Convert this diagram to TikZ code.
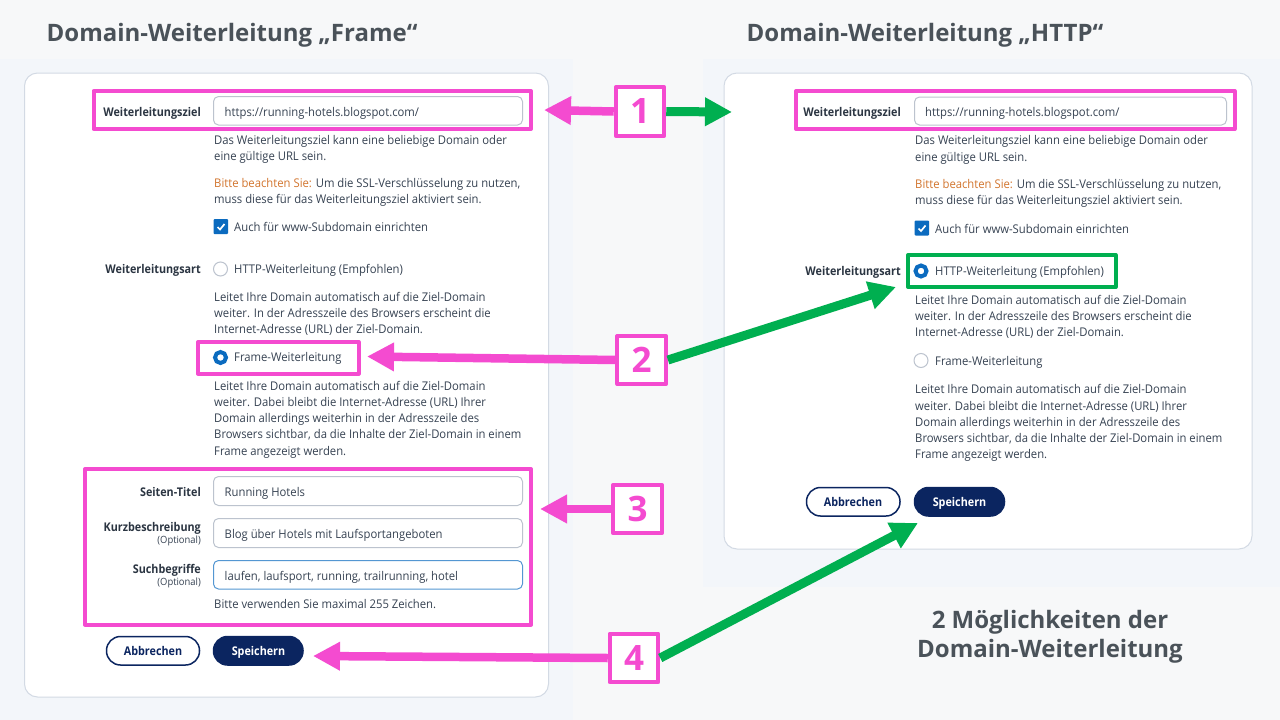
\documentclass[tikz,border=0pt]{standalone}
\usepackage{fontspec}
\setmainfont{Open Sans}[FakeStretch=0.94,BoldFeatures={FakeStretch=0.9}]
\newfontfamily\plainf{Open Sans}
\usetikzlibrary{arrows.meta,calc}
\definecolor{pagebg}{HTML}{F7F8F9}
\definecolor{panelbg}{HTML}{F3F6FA}
\definecolor{cardline}{HTML}{D3DAE4}
\definecolor{mag}{HTML}{F44BD0}
\definecolor{grn}{HTML}{00AF50}
\definecolor{navy}{HTML}{0B2560}
\definecolor{ink}{HTML}{364252}
\definecolor{title}{HTML}{4A5259}
\definecolor{blue}{HTML}{0B6BBF}
\definecolor{fieldline}{HTML}{BCC3CE}
\definecolor{orange}{HTML}{D2752E}
\tikzset{
  x=1pt,y=-1pt,
  card/.style={draw=cardline,line width=1pt,fill=white,rounded corners=13pt},
  fieldbox/.style={draw=fieldline,line width=1pt,fill=white,rounded corners=5pt},
  magbox/.style={draw=mag,line width=4pt,line join=round},
  grnbox/.style={draw=grn,line width=4pt,line join=round},
  numbox/.style={draw=mag,line width=4pt,line join=round,fill=white,minimum width=48.5pt,minimum height=48.5pt,inner sep=0pt,text=mag,font=\plainf\fontsize{35}{35}\selectfont\bfseries},
  magarrow/.style={draw=mag,line width=8.5pt,-{Triangle[length=27pt,width=27pt]}},
  grnarrow/.style={draw=grn,line width=9pt,-{Triangle[length=27pt,width=27pt]}},
  bodyt/.style={anchor=base west,inner sep=0pt,text=ink,font=\fontsize{12}{12}\selectfont},
  labelt/.style={anchor=base east,inner sep=0pt,text=ink!80!black,font=\fontsize{12}{12}\selectfont\bfseries},
  optt/.style={anchor=base east,inner sep=0pt,text=ink,font=\fontsize{10}{10}\selectfont},
  titlet/.style={inner sep=0pt,text=title,font=\plainf\fontsize{24}{24}\selectfont\bfseries},
  pill/.style={rounded corners=14pt,line width=1.5pt},
  btnt/.style={inner sep=0pt,anchor=base,font=\fontsize{12}{12}\selectfont\bfseries},
  radioff/.style={circle,draw=fieldline,line width=1pt,fill=white,minimum size=14pt,inner sep=0pt},
  radion/.style={circle,draw=blue,line width=4pt,fill=white,minimum size=11pt,inner sep=0pt},
}
\newcommand{\bt}[4]{\node[bodyt] (#1) at (#2,#3) {#4};}
\begin{document}
\begin{tikzpicture}
\useasboundingbox (0,0) rectangle (1280,720);
\fill[pagebg] (0,0) rectangle (1280,720);
\fill[panelbg] (0,59) rectangle (573,720);
\fill[panelbg] (703,59) rectangle (1280,587);
\draw[card] (24.5,73) rectangle (548.5,697);
\draw[card] (724,73) rectangle (1252,549);

\node[titlet,anchor=base west] (t1) at (46.5,41) {Domain-Weiterleitung „Frame“};
\node[titlet,anchor=base west] (t2) at (746.5,41) {Domain-Weiterleitung „HTTP“};
\node[titlet,anchor=base,align=center] (t3) at (1050,628) {2 Möglichkeiten der};
\node[titlet,anchor=base,align=center] (t4) at (1050,657) {Domain-Weiterleitung};

% left form
\draw[fieldbox] (213.5,96.5) rectangle (522.5,125);
\node[labelt] (a1) at (201,116) {Weiterleitungsziel};
\bt{a2}{224.5}{116}{https://running-hotels.blogspot.com/}
\bt{a3}{214}{144.5}{Das Weiterleitungsziel kann eine beliebige Domain oder}
\bt{a4}{214}{160.5}{eine gültige URL sein.}
\bt{a5}{214}{187.5}{\textcolor{orange}{Bitte beachten Sie:} Um die SSL-Verschlüsselung zu nutzen,}
\bt{a6}{214}{203.5}{muss diese für das Weiterleitungsziel aktiviert sein.}
\fill[blue,rounded corners=1pt] (213.5,219) rectangle (228,234);
\draw[white,line width=1.7pt] (217.5,227) -- (220,229.5) -- (224.5,224);
\bt{a7}{234}{231.5}{Auch für www-Subdomain einrichten}
\node[labelt] (a8) at (201,273.5) {Weiterleitungsart};
\node[radioff] (a9) at (220.5,269) {};
\bt{a10}{234}{273.5}{HTTP-Weiterleitung (Empfohlen)}
\bt{a11}{214}{301.5}{Leitet Ihre Domain automatisch auf die Ziel-Domain}
\bt{a12}{214}{317.5}{weiter. In der Adresszeile des Browsers erscheint die}
\bt{a13}{214}{333.5}{Internet-Adresse (URL) der Ziel-Domain.}
\node[radion] (a14) at (220.5,357.5) {};
\bt{a15}{234}{361.5}{Frame-Weiterleitung}
\bt{a16}{214}{390}{Leitet Ihre Domain automatisch auf die Ziel-Domain}
\bt{a17}{214}{406}{weiter. Dabei bleibt die Internet-Adresse (URL) Ihrer}
\bt{a18}{214}{422}{Domain allerdings weiterhin in der Adresszeile des}
\bt{a19}{214}{438.5}{Browsers sichtbar, da die Inhalte der Ziel-Domain in einem}
\bt{a20}{214}{455}{Frame angezeigt werden.}
\draw[fieldbox] (213.5,476.5) rectangle (522.5,505.5);
\draw[fieldbox] (213.5,518.5) rectangle (522.5,547.5);
\draw[fieldbox,draw=blue!70!white] (213.5,560.5) rectangle (522.5,589);
\node[labelt] (a21) at (201,496) {Seiten-Titel};
\bt{a22}{224.5}{496}{Running Hotels}
\node[labelt] (a23) at (201,531) {Kurzbeschreibung};
\node[optt] (a24) at (201,543.5) {(Optional)};
\bt{a25}{224.5}{538}{Blog über Hotels mit Laufsportangeboten}
\node[labelt] (a26) at (201,573) {Suchbegriffe};
\node[optt] (a27) at (201,585.5) {(Optional)};
\bt{a28}{224.5}{580}{laufen, laufsport, running, trailrunning, hotel}
\bt{a29}{214}{608}{Bitte verwenden Sie maximal 255 Zeichen.}
\draw[pill,draw=navy,fill=white] (106.5,636.5) rectangle (199.5,665);
\node[btnt,text=navy] (a30) at (153,655.5) {Abbrechen};
\draw[pill,draw=navy,fill=navy] (213.5,636.5) rectangle (303,665);
\node[btnt,text=white] (a31) at (258.5,655.5) {Speichern};

% right form
\draw[fieldbox] (914.5,97) rectangle (1226.5,125);
\node[labelt] (b1) at (901,116) {Weiterleitungsziel};
\bt{b2}{925}{116}{https://running-hotels.blogspot.com/}
\bt{b3}{915}{144.5}{Das Weiterleitungsziel kann eine beliebige Domain oder}
\bt{b4}{915}{161}{eine gültige URL sein.}
\bt{b5}{915}{188.5}{\textcolor{orange}{Bitte beachten Sie:} Um die SSL-Verschlüsselung zu nutzen,}
\bt{b6}{915}{204.5}{muss diese für das Weiterleitungsziel aktiviert sein.}
\fill[blue,rounded corners=1pt] (914.5,220.5) rectangle (929,235.5);
\draw[white,line width=1.7pt] (918.5,228.5) -- (921,231) -- (925.5,225.5);
\bt{b7}{935}{233}{Auch für www-Subdomain einrichten}
\node[labelt] (b8) at (901,275.5) {Weiterleitungsart};
\node[radion] (b9) at (921,271) {};
\bt{b10}{935}{275.5}{HTTP-Weiterleitung (Empfohlen)}
\bt{b11}{915}{304}{Leitet Ihre Domain automatisch auf die Ziel-Domain}
\bt{b12}{915}{320.5}{weiter. In der Adresszeile des Browsers erscheint die}
\bt{b13}{915}{336.5}{Internet-Adresse (URL) der Ziel-Domain.}
\node[radioff] (b14) at (921,360.5) {};
\bt{b15}{935}{365}{Frame-Weiterleitung}
\bt{b16}{915}{393.5}{Leitet Ihre Domain automatisch auf die Ziel-Domain}
\bt{b17}{915}{410}{weiter. Dabei bleibt die Internet-Adresse (URL) Ihrer}
\bt{b18}{915}{426}{Domain allerdings weiterhin in der Adresszeile des}
\bt{b19}{915}{442.5}{Browsers sichtbar, da die Inhalte der Ziel-Domain in einem}
\bt{b20}{915}{458.5}{Frame angezeigt werden.}
\draw[pill,draw=navy,fill=white] (806.5,487.5) rectangle (900,516);
\node[btnt,text=navy] (b21) at (853,506.5) {Abbrechen};
\draw[pill,draw=navy,fill=navy] (914.5,487.5) rectangle (1004.5,516);
\node[btnt,text=white] (b22) at (959.5,506.5) {Speichern};

% highlight boxes
\draw[magbox] (93.5,91) rectangle (531,129);
\draw[magbox] (796,91) rectangle (1234.5,129);
\draw[magbox] (198,342) rectangle (358.5,373.5);
\draw[magbox] (85,469) rectangle (531,624.5);
\draw[grnbox] (908,255) rectangle (1115.5,287);

% coordinates of arrow tips
\coordinate (p1) at (544,110);
\coordinate (q1) at (732,112);
\coordinate (p2) at (367,356.5);
\coordinate (q2) at (896,287);
\coordinate (p3) at (540,509);
\coordinate (p4) at (313,656);
\coordinate (q4) at (918,523);
% number boxes
\node[numbox] (n1) at (640,111.5) {1};
\node[numbox] (n2) at (641.7,360) {2};
\node[numbox] (n3) at (637.5,509) {3};
\node[numbox] (n4) at (634,658) {4};
\draw[magarrow] (n1.west) -- (p1);
\draw[grnarrow] (n1.east) -- (q1);
\draw[magarrow] (n2.west) -- (p2);
\draw[grnarrow] (n2.east) -- (q2);
\draw[magarrow] (n3.west) -- (p3);
\draw[magarrow] (n4.west) -- (p4);
\draw[grnarrow] (n4.east) -- (q4);
\end{tikzpicture}
\end{document}
